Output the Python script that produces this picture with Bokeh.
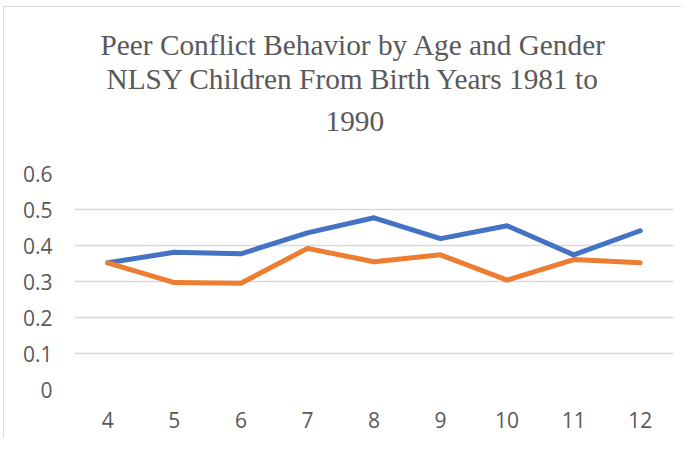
from bokeh.plotting import figure
from bokeh.models import Title, FactorRange
from bokeh.embed import file_html
from bokeh.resources import INLINE

ages = ["4", "5", "6", "7", "8", "9", "10", "11", "12"]
series_1 = [0.352, 0.381, 0.377, 0.435, 0.477, 0.419, 0.455, 0.374, 0.441]
series_2 = [0.352, 0.297, 0.295, 0.392, 0.355, 0.374, 0.304, 0.361, 0.352]
y_ticks = [0, 0.1, 0.2, 0.3, 0.4, 0.5, 0.6]
y_tick_labels = {0: "0", 0.1: "0.1", 0.2: "0.2", 0.3: "0.3", 0.4: "0.4", 0.5: "0.5", 0.6: "0.6"}
title_lines = ["Peer Conflict Behavior by Age and Gender",
               "NLSY Children From Birth Years 1981 to",
               "1990"]

p = figure(width=678, height=432, x_range=FactorRange(*ages, range_padding=0),
           y_range=(0, 0.6), output_backend="svg", toolbar_location=None,
           min_border_left=70, min_border_right=9, min_border_top=166,
           min_border_bottom=50)
p.styles = {"position": "relative", "left": "3px", "top": "6px",
            "border-left": "1px solid #D9D9D9", "border-top": "1px solid #D9D9D9"}
p.outline_line_color = None
p.background_fill_color = "white"
p.border_fill_color = "white"

p.line(ages, series_1, line_color="#4472C4", line_width=5, line_cap="round", line_join="round")
p.line(ages, series_2, line_color="#ED7D31", line_width=5, line_cap="round", line_join="round")

p.xgrid.grid_line_color = None
p.ygrid.grid_line_color = "#D9D9D9"
p.ygrid.grid_line_width = 1.5

p.yaxis.ticker = y_ticks
p.yaxis.major_label_overrides = y_tick_labels
for ax in (p.xaxis[0], p.yaxis[0]):
    ax.axis_line_color = None
    ax.major_tick_line_color = None
    ax.minor_tick_line_color = None
    ax.major_tick_out = 0
    ax.major_tick_in = 0
    ax.major_label_text_font = "Open Sans"
    ax.major_label_text_font_size = "21px"
    ax.major_label_text_color = "#595959"
p.yaxis.major_label_standoff = 22
p.xaxis.major_label_standoff = 22

# spacer between the title block and the plot area
p.add_layout(Title(text=" ", text_font_size="1px", standoff=25), "above")

offsets = [26, 32, 251]
standoffs = [0, 0, 30]
for txt, off, so in zip(reversed(title_lines), reversed(offsets), reversed(standoffs)):
    p.add_layout(Title(text=txt, align="left", offset=off, standoff=so,
                       text_font="Liberation Serif", text_font_size="29.3px",
                       text_font_style="normal", text_color="#595959"), "above")

open("out.html", "w").write(file_html(p, INLINE))
